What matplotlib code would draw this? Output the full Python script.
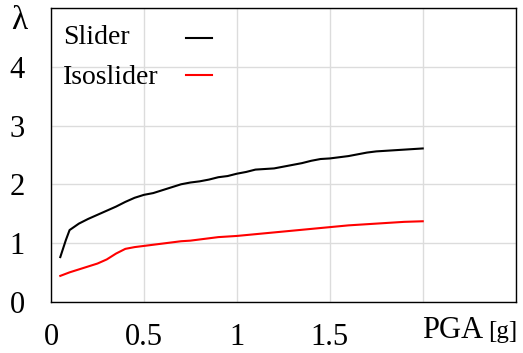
import matplotlib
matplotlib.use("Agg")
import matplotlib.pyplot as plt
from matplotlib.lines import Line2D

plt.rcParams['font.family'] = ['Liberation Serif', 'DejaVu Serif']

# PGA values [g] and collapse multipliers
pga_slider = [0.05, 0.08, 0.10, 0.15, 0.20, 0.25, 0.30, 0.35, 0.40, 0.45, 0.50,
              0.55, 0.60, 0.65, 0.70, 0.75, 0.80, 0.85, 0.90, 0.95, 1.00, 1.05,
              1.10, 1.15, 1.20, 1.25, 1.30, 1.35, 1.40, 1.45, 1.50, 1.55, 1.60,
              1.65, 1.70, 1.75, 1.80, 1.85, 1.90, 1.95, 2.00]
lam_slider = [0.76, 1.05, 1.22, 1.33, 1.41, 1.48, 1.55, 1.62, 1.70, 1.77, 1.82,
              1.85, 1.90, 1.95, 2.00, 2.03, 2.05, 2.08, 2.12, 2.14, 2.18, 2.21,
              2.25, 2.26, 2.27, 2.30, 2.33, 2.36, 2.40, 2.43, 2.44, 2.46, 2.48,
              2.51, 2.54, 2.56, 2.57, 2.58, 2.59, 2.60, 2.61]

pga_iso = [0.05, 0.10, 0.15, 0.20, 0.25, 0.30, 0.35, 0.40, 0.45, 0.50, 0.55,
           0.60, 0.65, 0.70, 0.75, 0.80, 0.85, 0.90, 0.95, 1.00, 1.10, 1.20,
           1.30, 1.40, 1.50, 1.60, 1.70, 1.80, 1.90, 2.00]
lam_iso = [0.44, 0.50, 0.55, 0.60, 0.65, 0.72, 0.82, 0.90, 0.93, 0.95, 0.97,
           0.99, 1.01, 1.03, 1.04, 1.06, 1.08, 1.10, 1.11, 1.12, 1.15, 1.18,
           1.21, 1.24, 1.27, 1.30, 1.32, 1.34, 1.36, 1.37]

series_names = ['Slider', 'Isoslider']
series_colors = ['black', 'red']

x_ticks = [0, 0.5, 1, 1.5, 2, 2.5]
x_tick_labels = ['0', '0.5', '1', '1.5', '', '']
y_ticks = [0, 1, 2, 3, 4, 5]
y_tick_labels = ['0', '1', '2', '3', '4', '']

W, H = 523, 353
fig = plt.figure(figsize=(W / 100, H / 100), dpi=100)
ax = fig.add_axes([0.0975, 0.1453, 0.8885, 0.8317])

ax.plot(pga_slider, lam_slider, color=series_colors[0], lw=1.5)
ax.plot(pga_iso, lam_iso, color=series_colors[1], lw=1.5)

ax.set_xlim(0, 2.5)
ax.set_ylim(0, 5)
ax.set_xticks(x_ticks)
ax.set_xticklabels(x_tick_labels)
ax.set_yticks(y_ticks)
ax.set_yticklabels(y_tick_labels)
ax.tick_params(length=0, labelsize=22)
ax.tick_params(axis='x', pad=15)
ax.tick_params(axis='y', pad=19)
ax.grid(True, color='#dcdcdc', lw=1)
ax.set_axisbelow(True)
for s in ax.spines.values():
    s.set_color('black')
    s.set_linewidth(1.0)

# axis labels
fig.text(19 / W, 1 - 21 / H, 'λ', fontsize=24, ha='center', va='center')
fig.text(422 / W, 1 - 331 / H, 'PGA', fontsize=22, ha='left', va='center')
fig.text(488 / W, 1 - 332 / H, '[g]', fontsize=18, ha='left', va='center')

# legend: name on the left, line sample on the right
legend_text_y = [37, 77]
legend_line_y = [38, 75]
for name, color, ty, ly in zip(series_names, series_colors, legend_text_y, legend_line_y):
    fig.text(63 / W, 1 - ty / H, name, fontsize=20, ha='left', va='center')
    fig.add_artist(Line2D([186 / W, 212 / W], [1 - ly / H, 1 - ly / H],
                          color=color, lw=1.5))

fig.savefig('out.png', dpi=100)
